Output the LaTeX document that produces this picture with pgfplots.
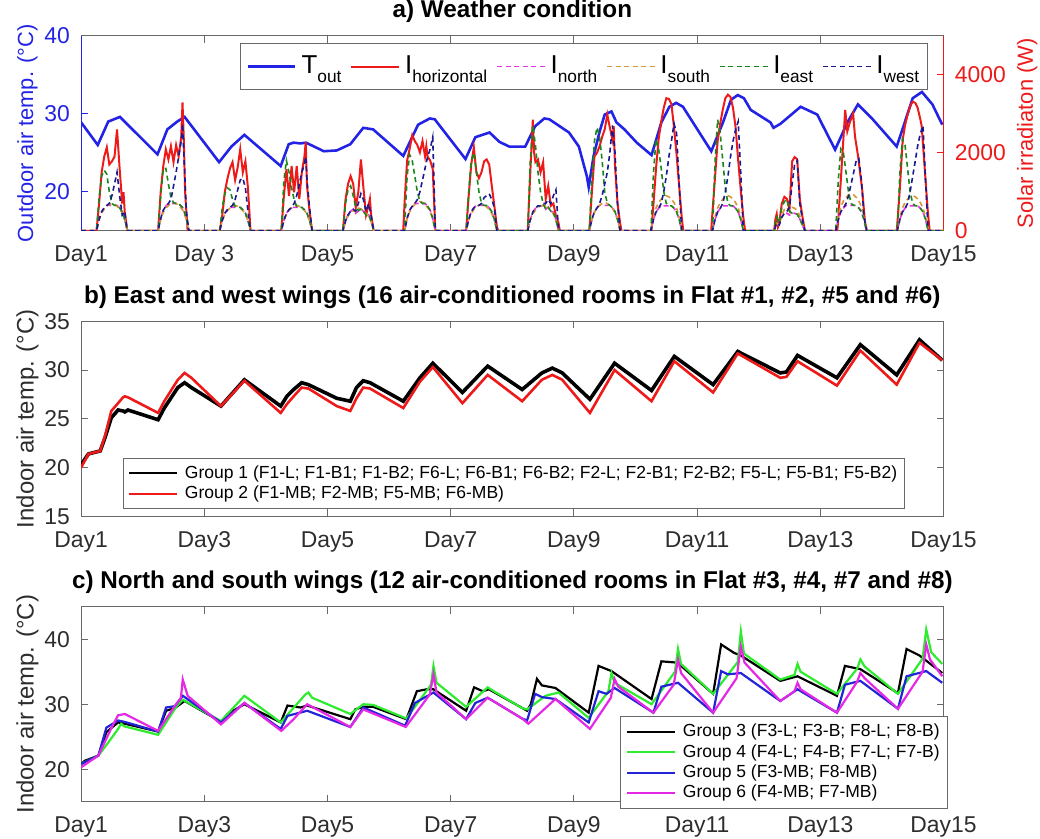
\documentclass[border=0pt]{standalone}
\usepackage{fontspec}
\setmainfont{Liberation Sans}
\usepackage{pgfplots}
\pgfplotsset{compat=1.18}
\usepackage{pgfplotstable}

\definecolor{axgray}{RGB}{105,105,105}
\definecolor{lblgray}{RGB}{45,45,45}
\definecolor{tblue}{RGB}{35,35,230}
\definecolor{ired}{RGB}{238,25,25}
\definecolor{nmag}{RGB}{235,50,235}
\definecolor{sorange}{RGB}{215,150,55}
\definecolor{egreen}{RGB}{25,135,25}
\definecolor{wnavy}{RGB}{25,25,145}
\definecolor{gfour}{RGB}{45,235,45}
\definecolor{gfive}{RGB}{35,35,215}
\definecolor{gsix}{RGB}{228,40,228}

% subscript as set in the weather legend
\newcommand{\sub}[1]{\raisebox{-4.5pt}{\fontsize{8.7}{9}\selectfont #1}}

% legend samples: a plain 24pt stroke in the style of the series
\pgfplotsset{legend image code/.code={\draw[#1] (0pt,0pt) -- (24pt,0pt);}}

% ---------------- data ----------------
% outdoor air temperature (deg C), time in days
\pgfplotstableread{
t T
1.00 28.9
1.27 26.0
1.44 29.0
1.63 29.6
2.24 24.8
2.40 28.0
2.56 29.0
2.68 29.6
3.24 23.8
3.44 25.8
3.65 27.3
4.24 23.3
4.37 26.1
4.45 26.3
4.56 26.2
4.65 26.3
4.94 25.2
5.15 25.3
5.37 26.1
5.58 28.2
5.74 28.0
6.23 24.6
6.47 28.6
6.66 29.4
6.74 29.3
7.24 24.2
7.40 27.0
7.63 27.6
7.79 26.4
7.95 25.8
8.21 25.8
8.37 28.4
8.52 29.4
8.60 29.3
8.92 27.6
9.08 25.8
9.21 22.0
9.24 20.6
9.32 24.6
9.42 27.8
9.50 29.9
9.61 30.3
9.69 28.9
9.82 28.0
10.02 26.3
10.26 24.7
10.42 28.9
10.55 30.9
10.66 31.4
10.77 30.9
11.23 25.2
11.42 28.9
11.55 31.8
11.66 32.4
11.76 32.0
11.87 30.5
12.19 28.9
12.24 28.2
12.35 28.7
12.68 30.9
12.95 29.9
13.24 25.4
13.44 28.9
13.61 31.2
13.85 29.3
14.24 25.8
14.40 29.6
14.50 32.0
14.65 32.8
14.82 31.2
14.98 28.6
}\Tout

% global horizontal irradiation (W)
\pgfplotstableread{
t I
1.000 0
1.250 0
1.292 700
1.333 1500
1.375 1900
1.417 2140
1.458 1700
1.500 1780
1.542 1900
1.583 2600
1.625 1600
1.667 700
1.688 990
1.708 480
1.750 0
2.250 0
2.292 1000
2.333 1650
2.375 2090
2.417 1830
2.458 2170
2.500 1760
2.542 2200
2.583 1910
2.625 2400
2.646 3290
2.667 2340
2.688 1000
2.708 500
2.729 0
3.250 0
3.292 400
3.333 1000
3.375 1330
3.417 1600
3.458 1760
3.500 1300
3.542 1630
3.583 2090
3.625 1500
3.667 1780
3.708 1100
3.750 0
4.250 0
4.292 900
4.333 1580
4.375 890
4.417 1660
4.458 990
4.500 1660
4.542 815
4.583 1500
4.625 1900
4.646 2270
4.667 1150
4.708 500
4.750 0
5.250 0
5.292 800
5.333 1200
5.375 1400
5.417 1200
5.458 600
5.500 990
5.542 1830
5.583 1100
5.625 400
5.667 650
5.688 815
5.708 400
5.750 0
6.229 0
6.250 700
6.292 1800
6.333 2100
6.375 2450
6.417 2300
6.458 2200
6.500 2010
6.542 2300
6.583 1910
6.604 2170
6.625 1900
6.667 1800
6.708 1580
6.729 800
6.750 0
7.250 0
7.292 900
7.333 1700
7.375 2140
7.417 1500
7.458 1350
7.500 1500
7.542 1780
7.583 1830
7.625 1700
7.667 1150
7.708 640
7.750 100
7.771 0
8.250 0
8.292 1500
8.333 2850
8.354 2000
8.375 1760
8.417 1830
8.458 1500
8.500 1760
8.542 815
8.583 1150
8.625 640
8.667 700
8.708 380
8.750 200
8.771 0
9.250 0
9.292 1000
9.333 1900
9.375 2000
9.417 2170
9.458 2400
9.500 2600
9.542 2980
9.583 2650
9.625 2340
9.646 2680
9.667 1660
9.708 700
9.750 200
9.771 0
10.258 0
10.292 700
10.333 1600
10.375 2350
10.417 2800
10.458 3150
10.500 3400
10.542 3380
10.583 3250
10.625 2650
10.667 1950
10.708 1150
10.750 350
10.775 0
11.229 0
11.250 500
11.292 1400
11.333 2300
11.375 2750
11.417 3110
11.458 3400
11.500 3490
11.542 3430
11.583 3150
11.625 2650
11.667 1800
11.708 1050
11.750 350
11.779 0
12.250 0
12.271 300
12.292 430
12.313 100
12.333 200
12.375 700
12.417 870
12.458 815
12.500 560
12.542 1780
12.583 1890
12.625 1830
12.667 815
12.708 380
12.750 0
13.275 0
13.292 300
13.333 1300
13.354 1830
13.404 3100
13.438 2550
13.483 2800
13.533 3000
13.563 2420
13.613 1910
13.679 1070
13.725 230
13.758 0
14.242 0
14.292 1100
14.338 2340
14.375 2700
14.417 2980
14.458 3200
14.500 3310
14.542 3280
14.579 3160
14.625 2850
14.646 2680
14.692 1660
14.742 560
14.775 0
15.000 0
}\Ihor

% irradiation on the four facades (W): north, south, east, west
\pgfplotstableread{
t n s e w
1.000 0 0 0 0
1.250 0 0 0 0
1.292 290 280 850 290
1.333 490 455 1400 490
1.375 585 560 1550 585
1.417 650 630 1450 650
1.458 650 680 1000 700
1.500 650 700 700 900
1.542 650 680 650 1200
1.583 650 630 650 1500
1.625 585 560 585 900
1.667 490 455 490 400
1.708 290 280 290 500
1.750 0 0 0 0
2.250 0 0 0 0
2.292 315 290 900 315
2.333 525 470 1600 525
2.375 630 575 1600 630
2.417 700 650 1200 700
2.458 700 700 850 800
2.500 700 720 720 1150
2.542 700 700 700 1500
2.583 700 650 700 1900
2.625 630 575 630 2300
2.646 600 540 600 2750
2.667 525 470 525 2000
2.708 315 290 315 500
2.750 0 0 0 0
3.250 0 0 0 0
3.292 270 260 600 270
3.333 450 420 950 450
3.375 540 520 1100 540
3.417 600 585 1050 600
3.458 600 630 800 650
3.500 600 650 620 800
3.542 600 630 600 1050
3.583 600 585 600 1300
3.625 540 520 540 1350
3.667 450 420 450 1100
3.708 270 260 270 500
3.750 0 0 0 0
4.250 0 0 0 0
4.292 270 260 1300 270
4.333 450 420 1800 450
4.375 540 520 1500 540
4.417 600 585 1100 600
4.458 600 630 800 700
4.500 600 650 620 900
4.542 600 630 600 1200
4.583 600 585 600 1500
4.625 540 520 540 1700
4.646 500 480 500 1900
4.667 450 420 450 1300
4.708 270 260 270 600
4.750 0 0 0 0
5.250 0 0 0 0
5.292 250 230 700 250
5.333 410 380 1050 410
5.375 500 460 1150 500
5.417 550 520 900 550
5.458 450 480 600 500
5.500 500 580 520 700
5.542 550 560 550 950
5.583 500 520 500 800
5.625 400 420 400 500
5.667 410 380 410 700
5.708 250 230 250 400
5.750 0 0 0 0
6.250 0 0 0 0
6.292 315 300 1400 315
6.333 525 490 1950 525
6.375 630 600 1800 630
6.417 700 675 1400 700
6.458 700 730 1000 800
6.500 700 750 750 1000
6.542 700 730 700 1300
6.583 700 675 700 1600
6.625 630 600 630 1900
6.667 525 490 525 2100
6.708 315 300 315 2400
6.750 0 0 0 0
7.250 0 0 0 0
7.292 290 270 1000 290
7.333 490 440 1800 490
7.375 585 545 2000 585
7.417 650 610 1500 650
7.458 650 660 1000 650
7.500 650 680 700 700
7.542 650 660 650 850
7.583 650 610 650 900
7.625 585 545 585 950
7.667 490 440 490 800
7.708 290 270 290 600
7.750 0 0 0 0
8.250 0 0 0 0
8.292 290 265 1800 290
8.333 480 430 2700 480
8.375 575 530 2200 575
8.417 640 595 1500 640
8.458 640 640 1000 640
8.500 640 660 700 700
8.542 550 600 550 700
8.583 600 595 600 800
8.625 500 530 500 700
8.667 480 430 480 900
8.708 290 265 290 1050
8.750 0 0 0 0
9.250 0 0 0 0
9.292 290 290 1300 290
9.333 490 470 2300 490
9.375 585 575 2650 585
9.417 650 650 2400 700
9.458 650 700 1800 900
9.500 650 720 1000 1200
9.542 650 700 700 1500
9.583 650 650 650 2000
9.625 585 575 585 2700
9.667 490 470 490 2000
9.708 290 290 290 700
9.750 0 0 0 0
10.250 0 0 0 0
10.292 290 360 1500 290
10.333 480 585 2350 480
10.375 575 720 2100 575
10.417 640 810 1600 700
10.458 640 870 1000 1000
10.500 640 900 700 1400
10.542 640 870 640 1900
10.583 640 810 640 2300
10.625 575 720 575 2750
10.667 480 585 480 2500
10.708 290 360 290 1200
10.750 0 0 0 0
11.250 0 0 0 0
11.292 290 360 1800 290
11.333 480 585 2850 480
11.375 575 720 2500 575
11.417 640 810 1800 700
11.458 640 870 1100 1000
11.500 640 900 700 1400
11.542 640 870 640 1900
11.583 640 810 640 2300
11.625 575 720 575 2600
11.667 480 585 480 2800
11.708 290 360 290 1500
11.750 0 0 0 0
12.250 0 0 0 0
12.292 200 200 350 200
12.333 150 150 200 150
12.375 350 400 600 350
12.417 450 550 750 450
12.458 450 600 800 500
12.500 400 500 500 600
12.542 450 600 450 1200
12.583 450 580 450 1700
12.625 420 520 420 1800
12.667 300 380 300 700
12.708 150 180 150 300
12.750 0 0 0 0
13.250 0 0 0 0
13.292 290 380 1300 290
13.333 490 620 2100 490
13.375 585 760 2000 585
13.417 650 855 1500 700
13.458 650 920 1000 900
13.500 650 950 700 1200
13.542 650 920 650 1500
13.583 650 855 650 1800
13.625 585 760 585 1850
13.667 490 620 490 1300
13.708 290 380 290 400
13.750 0 0 0 0
14.250 0 0 0 0
14.292 290 360 1500 290
14.333 480 585 2350 480
14.375 575 720 2200 575
14.417 640 810 1600 700
14.458 640 870 1000 1000
14.500 640 900 700 1400
14.542 640 870 640 1800
14.583 640 810 640 2200
14.625 575 720 575 2500
14.667 480 585 480 2700
14.708 290 360 290 1300
14.750 0 0 0 0
15.000 0 0 0 0
}\Facade

% east and west wings: group 1 (g1) and group 2 (g2), deg C
\pgfplotstableread{
t g1 g2
1.00 20.3 20.0
1.12 21.4 21.4
1.31 21.7 21.7
1.39 23.1 23.3
1.49 25.1 25.8
1.60 25.9 26.6
1.68 25.8 27.2
1.71 25.7 27.3
1.76 25.9 27.2
2.25 24.9 25.6
2.35 26.1 26.8
2.57 28.2 29.0
2.68 28.7 29.7
2.79 28.2 29.2
3.27 26.3 26.3
3.65 29.0 28.9
4.24 26.3 25.6
4.34 27.3 26.5
4.45 28.0 27.3
4.58 28.7 28.2
4.69 28.5 28.1
5.15 27.1 26.3
5.37 26.8 25.8
5.47 28.2 27.1
5.58 28.9 28.2
5.69 28.7 28.1
6.23 26.8 26.1
6.50 29.2 28.8
6.71 30.7 30.3
7.19 27.7 26.6
7.60 30.4 29.5
8.16 28.0 26.8
8.48 29.7 29.0
8.65 30.2 29.5
8.81 29.7 29.0
9.26 27.0 25.6
9.66 30.7 30.0
10.26 27.9 26.8
10.63 31.4 30.9
11.26 28.5 27.7
11.66 31.9 31.7
12.35 29.7 29.2
12.45 29.8 29.3
12.63 31.5 30.9
13.27 29.2 28.4
13.65 32.6 32.0
14.24 29.5 28.5
14.61 33.1 32.8
14.98 31.0 31.0
}\EastWest

\begin{document}
\pgfplotsset{
  panel/.style={
    scale only axis, width=433.5pt, height=98pt,
    xmin=1, xmax=15,
    xtick={1,3,...,15},
    tick align=inside,
    major tick length=3.5pt,
    axis line style={axgray, line width=0.5pt},
    tick style={axgray, line width=0.5pt},
    tick label style={font=\fontsize{11.5}{13}\selectfont, text=lblgray},
    xticklabel style={anchor=base, yshift=-15.5pt},
    yticklabel style={inner sep=0pt},
    yticklabel shift=5.5pt,
    ylabel style={at={(axis description cs:-0.0623,0.5)}, anchor=center,
      font=\fontsize{12}{14}\selectfont, text=lblgray},
    title style={at={(axis description cs:0.5,1.031)}, anchor=base,
      font=\bfseries\fontsize{12.2}{14}\selectfont, text=black},
    legend cell align=left,
  },
}
\begin{tikzpicture}
\useasboundingbox (0,0) rectangle (520pt,421.5pt);

% ---------- a) weather: outdoor temperature (left axis) ----------
\begin{axis}[panel, at={(38pt,305.5pt)}, anchor=south west,
  axis x line*=box, axis y line*=left,
  ymin=15, ymax=40, ytick={20,30,40}, yticklabels={20,30,40},
  y axis line style={tblue}, y tick style={tblue},
  yticklabel style={text=tblue},
  xticklabels={Day1,Day 3,Day5,Day7,Day9,Day11,Day13,Day15},
  ylabel={Outdoor air temp. (°C)},
  ylabel style={text=tblue, font=\fontsize{11}{13}\selectfont},
  title={a) Weather condition},
]
\addplot[tblue, line width=1.3pt] table[x=t, y=T] {\Tout};
\end{axis}

% ---------- a) weather: solar irradiation (right axis) ----------
\begin{axis}[panel, at={(38pt,305.5pt)}, anchor=south west,
  axis x line=none, axis y line*=right,
  ymin=0, ymax=5000, ytick={0,2000,4000}, yticklabels={0,2000,4000},
  y axis line style={ired}, y tick style={ired},
  yticklabel style={text=ired},
  ylabel={Solar irradiaton (W)},
  ylabel style={at={(axis description cs:1.097,0.5)}, anchor=center, text=ired,
    font=\fontsize{11}{13}\selectfont},
  legend columns=6,
  legend style={at={(axis description cs:0.9815,0.964)}, anchor=north east,
    draw=axgray, fill=white, font=\fontsize{13}{14}\selectfont,
    inner xsep=3pt, inner ysep=5.5pt,
    nodes={inner sep=1pt},
    /tikz/every odd column/.append style={column sep=1.5pt},
    /tikz/every even column/.append style={column sep=3.5pt}},
]
\addlegendimage{tblue, line width=1.3pt}
\addlegendentry{T\sub{out}}
\addplot[ired, line width=1pt] table[x=t, y=I] {\Ihor};
\addlegendentry{I\sub{horizontal}}
\addplot[nmag, line width=0.8pt, dash pattern=on 2.5pt off 1.8pt] table[x=t, y=n] {\Facade};
\addlegendentry{I\sub{north}}
\addplot[sorange, line width=0.8pt, dash pattern=on 2.5pt off 1.8pt] table[x=t, y=s] {\Facade};
\addlegendentry{I\sub{south}}
\addplot[egreen, line width=0.8pt, dash pattern=on 2.5pt off 1.8pt] table[x=t, y=e] {\Facade};
\addlegendentry{I\sub{east}}
\addplot[wnavy, line width=0.8pt, dash pattern=on 2.5pt off 1.8pt] table[x=t, y=w] {\Facade};
\addlegendentry{I\sub{west}}
\end{axis}

% ---------- b) east and west wings ----------
\begin{axis}[panel, at={(38pt,162pt)}, anchor=south west,
  ymin=15, ymax=35, ytick={15,20,25,30,35}, yticklabels={15,20,25,30,35},
  xticklabels={Day1,Day3,Day5,Day7,Day9,Day11,Day13,Day15},
  ylabel={Indoor air temp. (°C)},
  title={b) East and west wings (16 air-conditioned rooms in Flat \#1, \#2, \#5 and \#6)},
  legend style={at={(axis description cs:0.048,0.036)}, anchor=south west,
    draw=axgray, fill=white, font=\fontsize{8.8}{10}\selectfont,
    inner xsep=2.5pt, inner ysep=2.5pt,
    nodes={inner sep=1.2pt},
    /tikz/every odd column/.append style={column sep=2.5pt}},
]
\addplot[black, line width=1.8pt, forget plot] table[x=t, y=g1] {\EastWest};
\addplot[ired, line width=1.3pt, forget plot] table[x=t, y=g2] {\EastWest};
\addlegendimage{black, line width=1pt}
\addlegendentry{Group 1 (F1-L; F1-B1; F1-B2; F6-L; F6-B1; F6-B2; F2-L; F2-B1; F2-B2; F5-L; F5-B1; F5-B2)}
\addlegendimage{ired, line width=1pt}
\addlegendentry{Group 2 (F1-MB; F2-MB; F5-MB; F6-MB)}
\end{axis}

% ---------- c) north and south wings ----------
\begin{axis}[panel, at={(38pt,18.5pt)}, anchor=south west,
  ymin=15, ymax=45, ytick={20,30,40}, yticklabels={20,30,40},
  xticklabels={Day1,Day3,Day5,Day7,Day9,Day11,Day13,Day15},
  ylabel={Indoor air temp. (°C)},
  title={c) North and south wings (12 air-conditioned rooms in Flat \#3, \#4, \#7 and \#8)},
  legend style={at={(axis description cs:1.0046,-0.036)}, anchor=south east,
    draw=axgray, fill=white, font=\fontsize{8.8}{10}\selectfont,
    inner xsep=2.5pt, inner ysep=2.5pt,
    nodes={inner sep=1.2pt},
    /tikz/every odd column/.append style={column sep=2.5pt}},
]
\addplot[black, line width=1.1pt, forget plot] coordinates {
(1.00,20.8) (1.06,21.3) (1.28,22.1) (1.41,25.7) (1.60,27.2) (1.71,27.0)
(2.25,25.8) (2.38,29.0) (2.52,29.4) (2.68,30.5) (3.27,27.3) (3.38,28.5)
(3.65,30.0) (4.24,27.2) (4.35,29.8) (4.56,29.5) (4.67,29.8) (5.37,27.7)
(5.45,29.2) (5.58,29.6) (5.74,29.6) (6.28,27.7) (6.34,29.2) (6.45,32.0)
(6.61,32.3) (6.72,32.3) (7.25,29.0) (7.38,32.6) (7.52,32.0) (7.62,32.3)
(8.24,29.0) (8.30,30.0) (8.40,33.9) (8.48,32.9) (8.70,32.5) (9.24,28.7)
(9.40,35.9) (9.61,35.1) (10.26,30.8) (10.42,36.6) (10.68,36.4) (11.26,31.6)
(11.39,39.2) (11.60,37.9) (11.71,37.5) (12.35,33.6) (12.63,34.3) (13.27,31.3)
(13.40,35.9) (13.65,35.4) (14.26,31.7) (14.40,38.5) (14.61,37.5) (14.98,34.8)
};
\addplot[gfour, line width=1.1pt, forget plot] coordinates {
(1.00,20.8) (1.28,22.1) (1.44,24.1) (1.60,26.2) (1.65,27.0) (1.70,26.6)
(2.25,25.3) (2.55,29.7) (2.65,30.7) (3.27,27.4) (3.65,31.3) (4.24,27.2)
(4.64,31.5) (4.69,31.8) (4.75,31.0) (5.37,28.5) (5.58,30.0) (5.74,29.9)
(6.28,27.8) (6.68,33.0) (6.72,35.9) (6.77,33.3) (7.25,29.6) (7.60,32.6)
(7.70,32.0) (8.16,29.4) (8.24,29.2) (8.54,31.3) (8.75,31.8) (9.24,27.9)
(9.56,32.0) (9.61,34.8) (9.66,33.3) (10.26,30.0) (10.64,35.0) (10.69,38.5)
(10.74,36.2) (11.26,31.6) (11.66,36.5) (11.71,41.2) (11.76,37.8) (12.35,33.8)
(12.58,34.5) (12.63,36.2) (12.68,35.0) (13.27,31.6) (13.60,35.5) (13.65,36.9)
(13.72,35.8) (14.26,31.6) (14.66,37.0) (14.72,41.5) (14.80,38.0) (14.98,36.2)
};
\addplot[gfive, line width=1.1pt, forget plot] coordinates {
(1.00,20.8) (1.28,22.1) (1.41,26.4) (1.60,27.5) (1.70,27.3) (2.25,25.8)
(2.38,29.5) (2.52,29.7) (2.65,31.3) (3.27,27.2) (3.65,30.2) (4.24,26.2)
(4.35,28.2) (4.67,29.0) (5.37,26.5) (5.58,29.5) (6.26,26.7) (6.42,30.2)
(6.72,31.8) (7.25,27.7) (7.40,30.2) (7.60,31.0) (8.16,27.8) (8.24,27.5)
(8.37,31.6) (8.48,31.1) (8.70,30.8) (9.24,27.2) (9.40,32.0) (9.53,31.6)
(9.66,32.5) (10.29,28.7) (10.42,32.7) (10.69,33.3) (11.26,28.7) (11.39,35.1)
(11.50,34.6) (11.71,34.8) (12.35,30.5) (12.63,32.3) (13.27,28.7) (13.40,33.0)
(13.65,33.6) (14.26,29.3) (14.40,34.3) (14.72,35.1) (14.98,33.3)
};
\addplot[gsix, line width=1.1pt, forget plot] coordinates {
(1.00,20.3) (1.28,22.1) (1.50,26.5) (1.60,28.3) (1.71,28.5) (2.25,25.9)
(2.52,29.7) (2.62,31.0) (2.65,33.8) (2.73,31.3) (3.27,26.9) (3.65,30.2)
(4.25,25.9) (4.45,27.7) (4.67,30.0) (5.37,26.5) (5.58,29.2) (6.27,26.5)
(6.66,31.5) (6.72,34.6) (6.77,31.8) (7.25,27.7) (7.60,31.0) (8.16,27.8)
(8.26,27.0) (8.70,30.8) (9.26,26.2) (9.60,31.0) (9.66,33.9) (9.72,32.7)
(10.29,28.7) (10.62,33.0) (10.69,36.9) (10.74,34.8) (11.26,28.7) (11.64,34.0)
(11.71,38.9) (11.77,36.4) (12.35,30.5) (12.58,32.0) (12.63,33.3) (12.68,32.3)
(13.27,28.7) (13.60,33.5) (13.65,34.8) (13.72,34.0) (14.26,29.3) (14.66,35.0)
(14.72,39.2) (14.78,36.9) (14.98,34.3)
};
\addlegendimage{black, line width=1pt}
\addlegendentry{Group 3 (F3-L; F3-B; F8-L; F8-B)}
\addlegendimage{gfour, line width=1pt}
\addlegendentry{Group 4 (F4-L; F4-B; F7-L; F7-B)}
\addlegendimage{gfive, line width=1pt}
\addlegendentry{Group 5 (F3-MB; F8-MB)}
\addlegendimage{gsix, line width=1pt}
\addlegendentry{Group 6 (F4-MB; F7-MB)}
\end{axis}
\end{tikzpicture}
\end{document}
